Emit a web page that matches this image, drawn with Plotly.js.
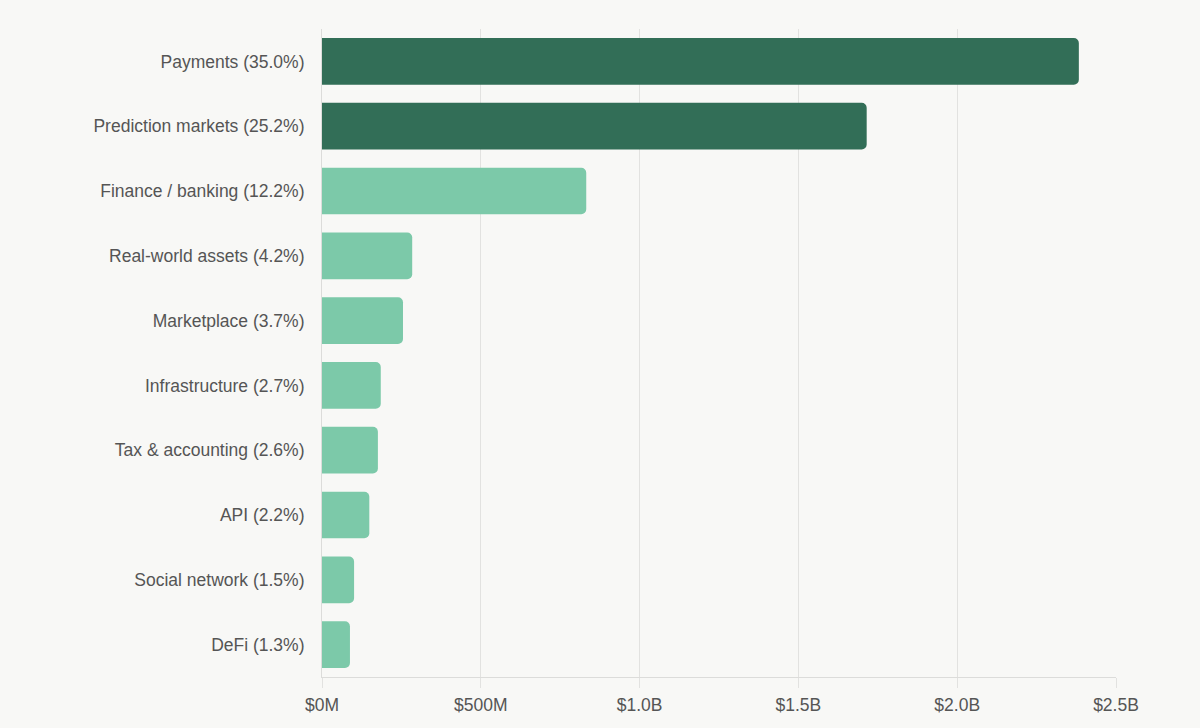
<!DOCTYPE html>
<html>
<head>
<meta charset="utf-8">
<script src="https://cdn.plot.ly/plotly-3.0.1.min.js"></script>
<style>
  html, body { margin: 0; padding: 0; background: #f8f8f6; }
  #chart { width: 1200px; height: 728px; }
</style>
</head>
<body>
<div id="chart"></div>
<script>
// ==========================================================
// DATA (values in $M)
// ==========================================================

const categories = [
    "Payments (35.0%)",
    "Prediction markets (25.2%)",
    "Finance / banking (12.2%)",
    "Real-world assets (4.2%)",
    "Marketplace (3.7%)",
    "Infrastructure (2.7%)",
    "Tax & accounting (2.6%)",
    "API (2.2%)",
    "Social network (1.5%)",
    "DeFi (1.3%)"
];

const values = [2383, 1715, 832, 284, 255, 185, 176, 149, 101, 88];

const highlighted = [true, true, false, false, false, false, false, false, false, false];

const tickValues = [0, 500, 1000, 1500, 2000, 2500];
const tickLabels = ["$0M", "$500M", "$1.0B", "$1.5B", "$2.0B", "$2.5B"];


// ==========================================================
// CHART
// ==========================================================

const darkGreen = "#326e57";
const lightGreen = "#7cc9a9";

Plotly.newPlot(

    "chart",

    [
        {
            type: "bar",
            orientation: "h",
            y: categories,
            x: values,
            marker: {
                color: highlighted.map(h => h ? darkGreen : lightGreen)
            },
            hoverinfo: "skip"
        }
    ],

    {
        width: 1200,
        height: 728,
        paper_bgcolor: "#f8f8f6",
        plot_bgcolor: "#f8f8f6",
        margin: { l: 322, r: 84, t: 29, b: 51 },
        bargap: 0.28,
        barcornerradius: 5,
        showlegend: false,
        font: { family: "Liberation Sans, Arial, sans-serif", size: 17.5, color: "#555555" },
        xaxis: {
            range: [0, 2500],
            tickvals: tickValues,
            ticktext: tickLabels,
            showgrid: true,
            gridcolor: "#e2e2e0",
            gridwidth: 1,
            zeroline: false,
            showline: true,
            linecolor: "#dcdcda",
            ticks: "outside",
            ticklen: 10,
            tickcolor: "#e2e2e0",
            ticklabelstandoff: 2,
            tickfont: { size: 17.5, color: "#555555" }
        },
        yaxis: {
            autorange: "reversed",
            range: [-0.5, 9.5],
            showgrid: false,
            zeroline: false,
            showline: true,
            linecolor: "#dcdcda",
            ticks: "",
            ticklabelstandoff: 13,
            tickfont: { size: 17.5, color: "#555555" }
        }
    },

    { displayModeBar: false, staticPlot: true }

);
</script>
</body>
</html>
